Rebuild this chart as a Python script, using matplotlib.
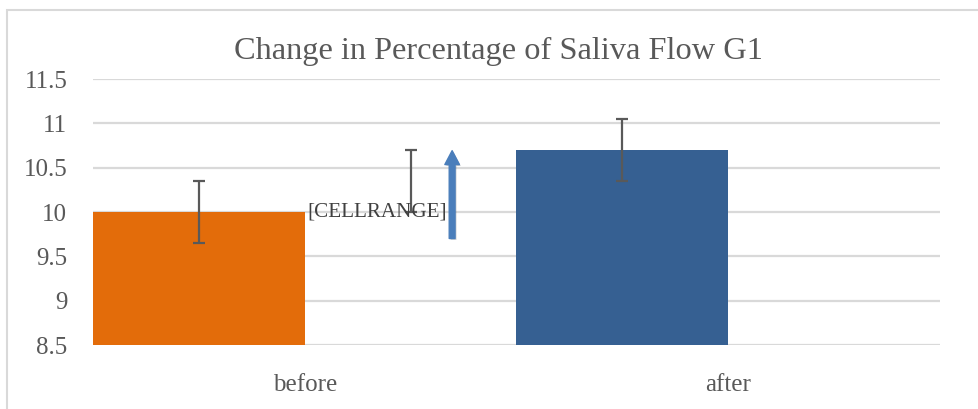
import numpy as np
import matplotlib.pyplot as plt
from matplotlib.patches import Rectangle, FancyArrowPatch
import matplotlib.patheffects as pe

categories = ["before", "after"]
mean_values = [10.0, 10.7]
mean_errors = [0.35, 0.35]
bar_colors = ["#E36C0A", "#366092"]
# second (hidden) series, only its error bar and label show
hidden_values = [10.35, np.nan]
hidden_errors = [0.35, np.nan]
hidden_label = "[CELLRANGE]"
yticks = [8.5, 9, 9.5, 10, 10.5, 11, 11.5]

plt.rcParams['font.family'] = ['Liberation Serif', 'DejaVu Serif']
txt = '#595959'
grid = '#D9D9D9'

fig = plt.figure(figsize=(9.79, 4.09), dpi=100)
ax = fig.add_axes([93/979, 1-345/409, 847/979, 266/409])

x = np.arange(len(categories))
w = 0.5
ax.bar(x - w/2, mean_values, w, bottom=0, color=bar_colors, zorder=3)
ax.errorbar(x - w/2, mean_values, yerr=mean_errors, fmt='none', ecolor=txt,
            elinewidth=1.6, capsize=4, capthick=1.6, zorder=4)
ax.bar(x + w/2, hidden_values, w, color='none', zorder=3)
ax.errorbar(x + w/2, hidden_values, yerr=hidden_errors, fmt='none', ecolor=txt,
            elinewidth=1.6, capsize=4, capthick=1.6, zorder=4)
ax.annotate(hidden_label, xy=(x[0], mean_values[0]), xytext=(2, 0),
            textcoords='offset points', ha='left', va='center',
            fontsize=15.2, color='#404040', zorder=5)

arr = FancyArrowPatch((0.424, 0.39), (0.424, 0.741), transform=ax.transAxes,
                      arrowstyle='simple,head_width=1.05,head_length=1.0,tail_width=0.42',
                      mutation_scale=10, color='#4A7EBB', zorder=6,
                      path_effects=[pe.SimplePatchShadow(offset=(1, -1), alpha=0.25),
                                    pe.Normal()])
ax.add_patch(arr)

ax.set_ylim(8.5, 11.5)
ax.set_xlim(-0.5, 1.5)
ax.set_yticks(yticks)
ax.set_yticklabels([f"{t:g}" for t in yticks])
ax.set_xticks(x)
ax.set_xticklabels(categories)
ax.tick_params(axis='y', length=0, pad=18.5, labelsize=18, labelcolor=txt)
ax.tick_params(axis='x', length=0, pad=21, labelsize=18, labelcolor=txt)
ax.grid(axis='y', color=grid, linewidth=1.6, zorder=0)
for s in ax.spines.values():
    s.set_visible(False)

fig.text(499/979, 1-51/409, "Change in Percentage of Saliva Flow G1",
         ha='center', va='center', fontsize=23.3, color=txt)

fig.patches.append(Rectangle((7/979, -0.1), 1.2, 1-10/409+0.1, transform=fig.transFigure,
                             fill=False, edgecolor=grid, linewidth=1.5))

fig.savefig("out.png", dpi=100)
